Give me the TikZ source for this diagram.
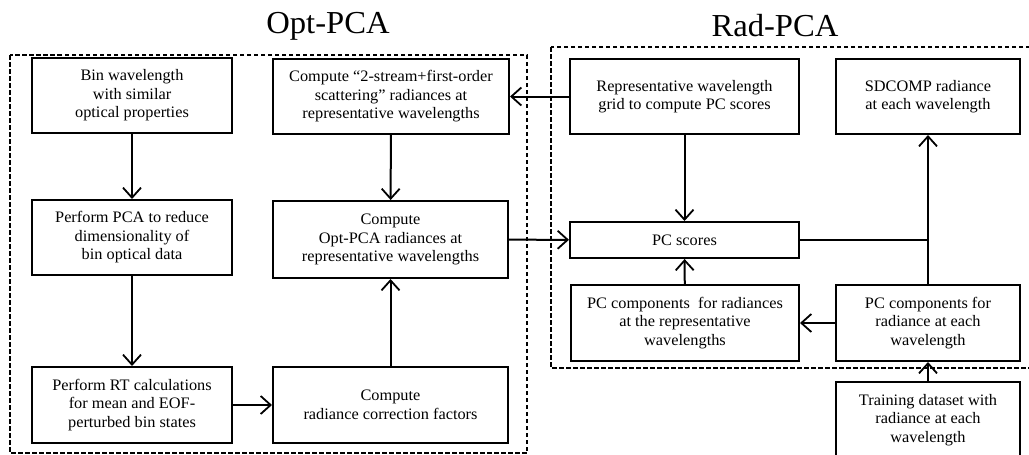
\documentclass[tikz,border=0pt]{standalone}
\usepackage{fontspec}
\setmainfont[FakeStretch=1.02]{Liberation Serif}
\usetikzlibrary{arrows.meta}
\begin{document}
\begin{tikzpicture}[x=1pt,y=-1pt,
  box/.style={draw, line width=2pt, align=center, inner sep=2pt,
    font=\fontsize{16}{18.5}\selectfont},
  arr/.style={line width=2pt, -{Straight Barb[length=10pt,width=18pt,line width=1.8pt]}},
  ln/.style={line width=2pt},
  grp/.style={draw, line width=1.6pt, dash pattern=on 4.5pt off 2.5pt},
  ttl/.style={font=\fontsize{32}{36}\selectfont, anchor=base}]
\useasboundingbox (0,0) rectangle (1029,455);
\begin{scope}
\clip (0,0) rectangle (1029,455);
% group frames
\draw[grp] (10,55) rectangle (527,453);
\draw[grp] (551,47) rectangle (1040,368);
\node[ttl] (optt) at (328,33) {Opt-PCA};
\node[ttl] (radt) at (775,36) {Rad-PCA};
% Opt-PCA boxes
\node[box, minimum width=200pt, minimum height=75pt] (bin) at (132,95.5) {Bin wavelength\\with similar\\optical properties};
\node[box, minimum width=236pt, minimum height=75pt] (two) at (391,96.5) {Compute “2-stream+first-order\\scattering” radiances at\\representative wavelengths};
\node[box, minimum width=200pt, minimum height=75pt] (pca) at (132,237.5) {Perform PCA to reduce\\dimensionality of\\bin optical data};
\node[box, minimum width=235pt, minimum height=77pt] (optr) at (390.5,239.5) {Compute\\Opt-PCA radiances at\\representative wavelengths};
\node[box, minimum width=200pt, minimum height=76pt] (rt) at (132,405) {Perform RT calculations\\for mean and EOF-\\perturbed bin states};
\node[box, minimum width=235pt, minimum height=76pt] (corr) at (390.5,405) {Compute\\radiance correction factors};
% Rad-PCA boxes
\node[box, minimum width=229pt, minimum height=75pt] (grid) at (684.5,96.5) {Representative wavelength\\grid to compute PC scores};
\node[box, minimum width=184pt, minimum height=75pt] (sd) at (928,96.5) {SDCOMP radiance\\at each wavelength};
\node[box, minimum width=229pt, minimum height=36pt] (scores) at (684.5,240) {PC scores};
\node[box, minimum width=228pt, minimum height=76pt] (comps) at (685,323) {PC components~ for radiances\\at the representative\\wavelengths};
\node[box, minimum width=184pt, minimum height=76pt] (each) at (928,323) {PC components for\\radiance at each\\wavelength};
\node[box, minimum width=184pt, minimum height=76pt] (train) at (928,420) {Training dataset with\\radiance at each\\wavelength};
% connectors
\draw[arr] (bin) -- (pca);
\draw[arr] (pca) -- (rt);
\draw[arr] (rt) -- (corr);
\draw[arr] (corr) -- (optr);
\draw[arr] (two) -- (optr);
\draw[arr] (grid) -- (two);
\draw[arr] (optr) -- (scores);
\draw[arr] (grid) -- (scores);
\draw[arr] (comps) -- (scores);
\draw[arr] (each) -- (comps);
\draw[arr] (train) -- (each);
\draw[arr] (each) -- (sd);
\draw[ln] (scores.east) -- (scores.east -| each.north);
\end{scope}
\end{tikzpicture}
\end{document}
